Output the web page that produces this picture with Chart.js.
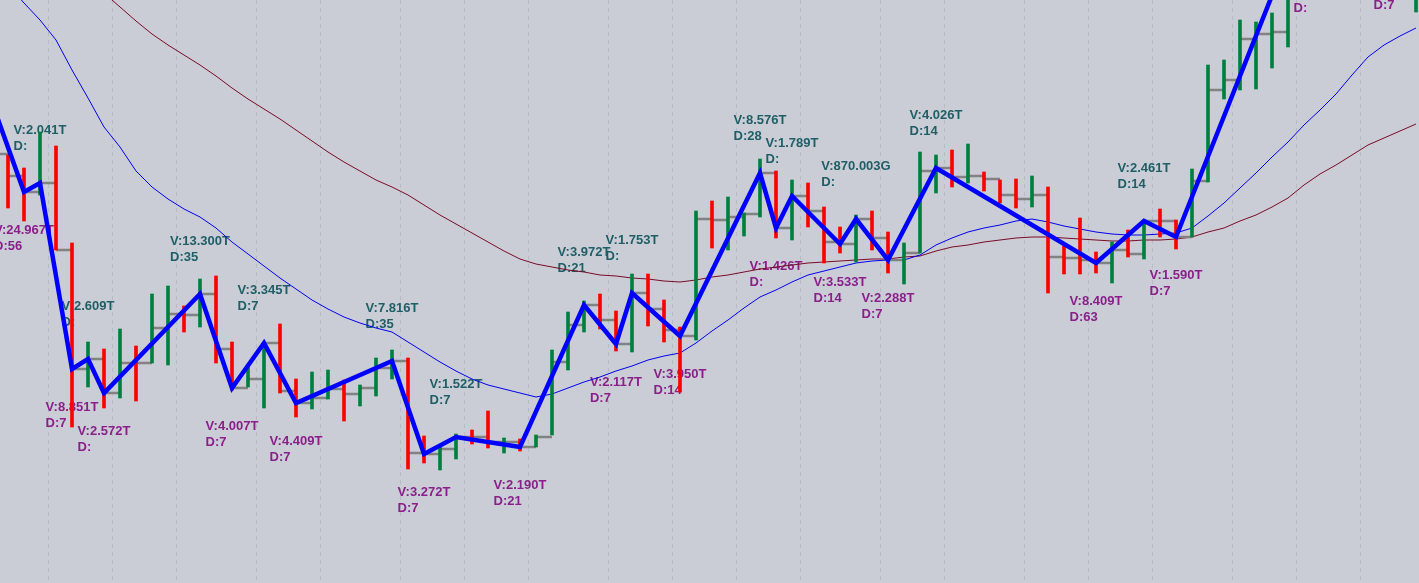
<!DOCTYPE html>
<html>
<head>
<meta charset="utf-8">
<script src="https://cdn.jsdelivr.net/npm/chart.js@4.4.1/dist/chart.umd.min.js"></script>
<style>
html,body{margin:0;padding:0;background:#cacdd5;overflow:hidden}
#wrap{width:1419px;height:583px;position:relative}
</style>
</head>
<body>
<div id="wrap"><canvas id="c"></canvas></div>
<script>
// ---- data (bar index 0 = first bar, two bars lie left of the visible window) ----
const highs = [555,540,445,432,468,454,357,258,251,271,254,306,314,294,321,324,258,233,257,276,221,228,230,220,215,242,250,242,164,154,166,170,189,162,161,165,250,288,299,306,289,326,326,300,273,389,399,403,387,441,429,420,417,393,373,385,389,368,357,448,445,450,456,428,420,421,424,413,354,382,348,358,370,380,391,380,431,535,540,580,578,587,640,720,695,700,725,740,720,680,690];
const lows = [500,440,392,379,405,350,173,213,192,202,199,237,235,268,273,237,210,213,192,207,183,191,201,179,194,204,221,131,137,130,141,156,152,147,149,153,165,230,268,271,249,248,274,258,208,260,352,350,364,383,362,360,373,337,347,338,350,327,316,347,407,413,417,409,397,392,393,307,326,326,327,317,343,341,363,351,363,418,501,510,511,532,553,630,620,630,660,685,660,625,588];
const closes = [542,446,424,408,417,350,231,241,207,237,237,272,286,285,306,251,212,221,257,209,197,202,211,206,212,232,239,147,146,151,163,163,158,158,153,163,238,275,295,280,256,307,291,270,264,381,380,383,386,427,372,404,389,358,356,381,362,340,347,429,432,423,424,421,405,401,405,343,342,340,337,350,346,379,379,363,419,510,520,561,566,568,620,685,646,670,695,710,670,649,660];
const barUp = [1,0,0,0,1,0,0,1,0,1,0,1,1,0,1,0,0,1,1,0,0,1,1,0,1,1,1,0,0,1,1,0,0,1,0,1,1,1,1,0,0,1,0,0,0,1,0,1,1,1,0,1,0,0,0,1,0,0,1,1,1,0,1,0,0,0,1,0,0,0,0,1,0,1,0,0,1,1,1,1,1,1,1,1,0,1,1,1,0,0,1];
const maFast = [null,null,615,597,580,560,530,502,473,453,429,413,401,391,383,372,358,346,334,322,311,300,291,283,277,272,268,258,248,238,229,221,215,211,207,203,206,212,218,223,229,234,240,244,247,257,269,280,292,303,310,318,325,329,333,337,339,340,340,345,355,362,368,372,375,379,381,378,374,371,368,366,365,365,366,367,372,384,397,412,427,443,458,475,490,506,525,543,555,564,572];
const maSlow = [null,null,null,null,null,null,null,null,607,593,579,566,555,545,535,524,512,501,491,481,470,459,448,438,429,420,413,405,395,385,376,367,358,349,341,336,333,330,328,325,324,322,321,319,318,320,323,325,328,331,333,335,337,338,339,340,341,341,343,344,349,353,355,358,360,362,363,363,362,361,360,359,359,360,360,361,363,368,372,379,385,393,402,415,426,435,445,455,462,469,476];
// zigzag pivots (bar indexes) with their volume / duration labels
const pivots = [0,3,4,6,7,8,14,16,18,20,26,28,30,34,38,40,41,44,49,50,51,54,55,57,60,70,73,75,83,84,87,89];
const pivotVol = ["","V:24.967T","V:2.041T","V:8.851T","V:2.609T","V:2.572T","V:13.300T","V:4.007T","V:3.345T","V:4.409T","V:7.816T","V:3.272T","V:1.522T","V:2.190T","V:3.972T","V:2.117T","V:1.753T","V:3.950T","V:8.576T","V:1.426T","V:1.789T","V:3.533T","V:870.003G","V:2.288T","V:4.026T","V:8.409T","V:2.461T","V:1.590T","","","",""];
const pivotDur = ["","D:56","D:","D:7","D:","D:","D:35","D:7","D:7","D:7","D:35","D:7","D:7","D:21","D:21","D:7","D:","D:14","D:28","D:","D:","D:14","D:","D:7","D:14","D:63","D:14","D:7","","D:","","D:7"];
// first bar of each week (vertical separators)
const weekStarts = [5,9,13,18,22,27,31,35,40,44,48,52,57,61,66,70,74,79,83,87];

const GREEN = '#00803f', RED = '#ff0000';

const tickData = [];
closes.forEach((c, i) => { tickData.push({x: i, y: c}, {x: i + 1, y: c}, {x: i + 1, y: null}); });

const labelPlugin = {
  id: 'pivotLabels',
  beforeDatasetsDraw(chart) {
    const ctx = chart.ctx, xs = chart.scales.x, ys = chart.scales.y;
    ctx.save();
    ctx.font = 'bold 13px "Liberation Sans", Arial, sans-serif';
    ctx.textBaseline = 'middle';
    ctx.textAlign = 'left';
    pivots.forEach((j, i) => {
      const other = pivots[i + 1 < pivots.length ? i + 1 : i - 1];
      const high = closes[j] > closes[other];
      const w = ctx.measureText(pivotVol[i] || 'V:0.000T').width;
      const x = xs.getPixelForValue(j) - w / 2;
      const y = ys.getPixelForValue(closes[j]);
      if (high) {
        ctx.fillStyle = '#1f5e66';
        ctx.fillText(pivotVol[i], x, y - 53);
        ctx.fillText(pivotDur[i], x, y - 37);
      } else {
        ctx.fillStyle = '#8a1f8a';
        ctx.fillText(pivotVol[i], x, y + 38);
        ctx.fillText(pivotDur[i], x, y + 54);
      }
    });
    ctx.restore();
  }
};

new Chart(document.getElementById('c'), {
  type: 'line',
  data: {
    datasets: [
      { type: 'line', data: pivots.map(j => ({x: j, y: closes[j]})), borderColor: '#0000ff', borderWidth: 4.5, pointRadius: 0, tension: 0, borderJoinStyle: 'miter' },
      { type: 'bar', data: highs.map((h, i) => ({x: i, y: [lows[i], h]})), backgroundColor: barUp.map(u => u ? GREEN : RED), barThickness: 3, borderWidth: 0 },
      { type: 'line', data: tickData, borderColor: '#828282', borderWidth: 2.5, pointRadius: 0, spanGaps: false, borderCapStyle: 'butt' },
      { type: 'line', data: maFast.map((v, i) => ({x: i, y: v})), borderColor: '#0000ee', borderWidth: 1, pointRadius: 0, tension: 0 },
      { type: 'line', data: maSlow.map((v, i) => ({x: i, y: v})), borderColor: '#7a0a28', borderWidth: 1, pointRadius: 0, tension: 0 }
    ]
  },
  options: {
    responsive: true,
    maintainAspectRatio: false,
    animation: false,
    parsing: true,
    layout: { padding: 0 },
    plugins: { legend: { display: false }, tooltip: { enabled: false } },
    scales: {
      x: {
        type: 'linear', min: 1.5, max: 1.5 + 1419 / 16, offset: false,
        afterBuildTicks: s => { s.ticks = weekStarts.map(j => ({value: j - 0.45})); },
        ticks: { display: false },
        grid: { color: '#b7bbc3', lineWidth: 1, drawTicks: false, offset: false },
        border: { display: false, dash: [4, 4] }
      },
      y: { type: 'linear', min: 17, max: 600, display: false }
    }
  },
  plugins: [labelPlugin]
});
</script>
</body>
</html>
